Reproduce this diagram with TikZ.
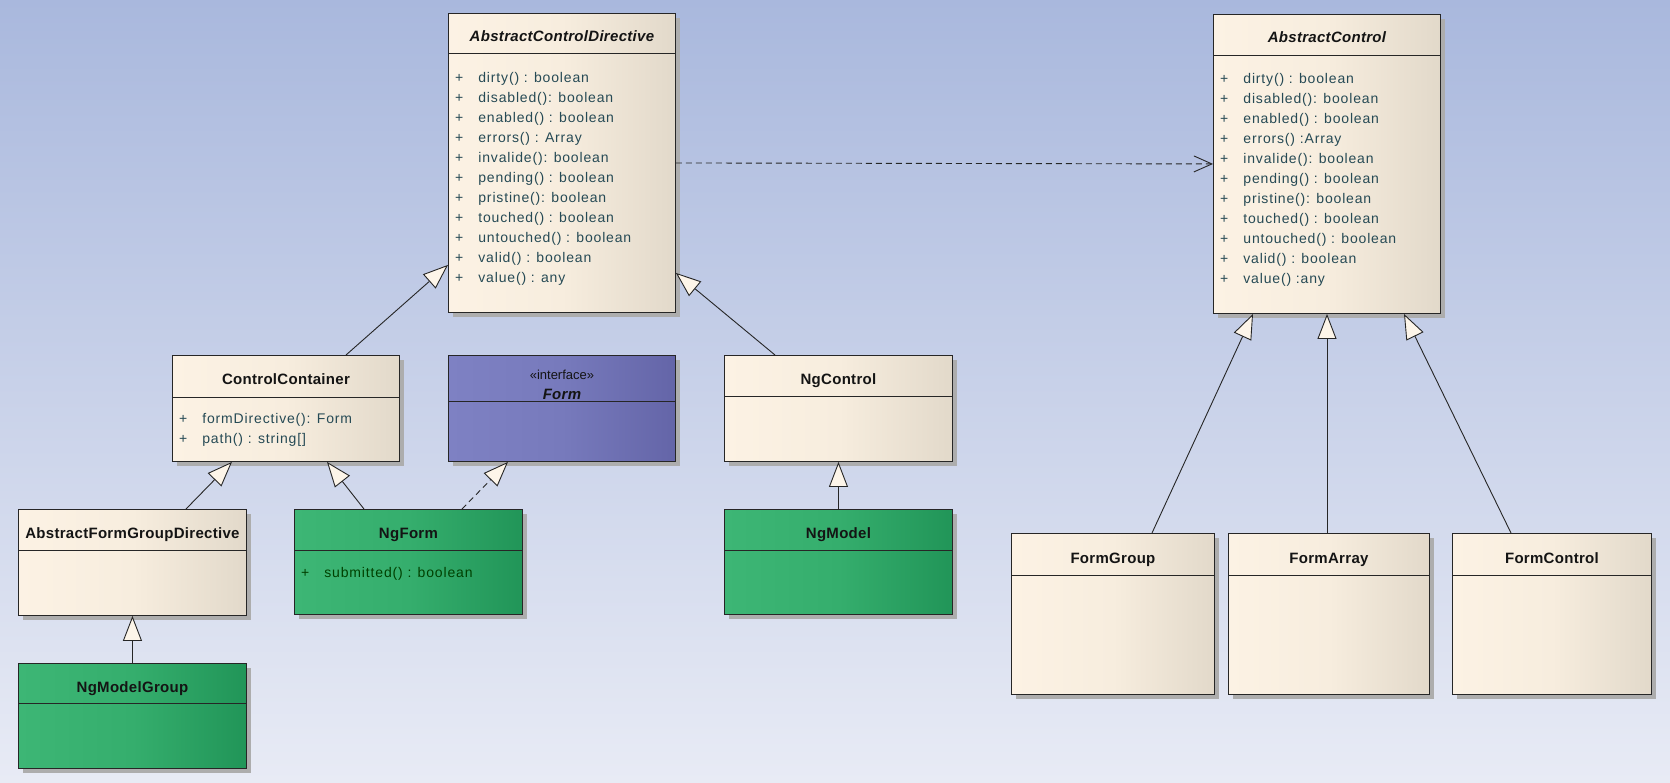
\documentclass[tikz,border=0pt]{standalone}
\usepackage{fontspec}
\setmainfont{Liberation Sans}
\usetikzlibrary{arrows.meta,shadows,calc}
\definecolor{bgtop}{HTML}{A9B8DD}
\definecolor{bgbot}{HTML}{E8EBF5}
\definecolor{beigeL}{HTML}{FCF2E4}
\definecolor{beigeM}{HTML}{F7EDDE}
\definecolor{beigeR}{HTML}{E2D9CA}
\definecolor{greenL}{HTML}{3DB675}
\definecolor{greenM}{HTML}{35AE6D}
\definecolor{greenR}{HTML}{219558}
\definecolor{purpL}{HTML}{7E81C3}
\definecolor{purpM}{HTML}{777ABC}
\definecolor{purpR}{HTML}{6465A8}
\definecolor{linecol}{HTML}{262626}
\definecolor{titlecol}{HTML}{141414}
\definecolor{attrcol}{HTML}{264A55}
\definecolor{tricol}{HTML}{FDF5E9}
\newcommand\attrfont{\fontsize{14}{20}\selectfont\addfontfeatures{LetterSpace=6}}
\newcommand\clstitlefont{\fontsize{15}{18}\selectfont\bfseries\addfontfeatures{LetterSpace=2}}
\tikzset{
  cls/.style={draw=linecol, line width=0.9pt, rectangle, anchor=north west, inner sep=0pt,
    drop shadow={shadow xshift=5pt, shadow yshift=-5pt, fill=black!32, opacity=1}},
  beige/.style={left color=beigeL, right color=beigeR, middle color=beigeM},
  green/.style={left color=greenL, right color=greenR, middle color=greenM},
  purp/.style={left color=purpL, right color=purpR, middle color=purpM},
  sepline/.style={draw=linecol, line width=0.9pt},
  ctitle/.style={anchor=base, inner sep=0pt, text=titlecol, font=\clstitlefont},
  attr/.style={anchor=base west, inner sep=0pt, text=attrcol, font=\attrfont},
  gen/.style={draw=linecol, line width=0.9pt, -{Triangle[length=25pt,width=19pt,fill=tricol]}},
  real/.style={gen, dash pattern=on 6pt off 4pt},
  dep/.style={draw=linecol, line width=0.9pt, dash pattern=on 6pt off 4pt, -{Straight Barb[length=18pt,width=16pt]}}
}
\newcommand\attrtab[1]{\begin{tabular}[t]{@{}l@{\hspace{15pt}}l@{}}#1\end{tabular}}
\begin{document}
\begin{tikzpicture}[x=1pt,y=-1pt]
\useasboundingbox (0,0) rectangle (1670,782);
\shade[top color=bgtop, bottom color=bgbot] (0,0) rectangle (1670,782);

% AbstractControlDirective
\node[cls, beige, minimum width=227pt, minimum height=299pt] (acd) at (448,13) {};
\draw[sepline] ([yshift=-40pt]acd.north west) -- ([yshift=-40pt]acd.north east);
\node[ctitle, font=\clstitlefont\itshape] (acdt) at ([yshift=-28.5pt]acd.north) {AbstractControlDirective};
\node[attr] (acda) at ([xshift=7pt,yshift=-69pt]acd.north west) {\attrtab{
+ & dirty() : boolean\\
+ & disabled(): boolean\\
+ & enabled() : boolean\\
+ & errors() : Array\\
+ & invalide(): boolean\\
+ & pending() : boolean\\
+ & pristine(): boolean\\
+ & touched() : boolean\\
+ & untouched() : boolean\\
+ & valid() : boolean\\
+ & value() : any}};

% AbstractControl
\node[cls, beige, minimum width=227pt, minimum height=299pt] (ac) at (1213,14) {};
\draw[sepline] ([yshift=-41pt]ac.north west) -- ([yshift=-41pt]ac.north east);
\node[ctitle, font=\clstitlefont\itshape] (act) at ([yshift=-28.5pt]ac.north) {AbstractControl};
\node[attr] (aca) at ([xshift=7pt,yshift=-69pt]ac.north west) {\attrtab{
+ & dirty() : boolean\\
+ & disabled(): boolean\\
+ & enabled() : boolean\\
+ & errors() :Array\\
+ & invalide(): boolean\\
+ & pending() : boolean\\
+ & pristine(): boolean\\
+ & touched() : boolean\\
+ & untouched() : boolean\\
+ & valid() : boolean\\
+ & value() :any}};

% ControlContainer
\node[cls, beige, minimum width=227pt, minimum height=106pt] (cc) at (172,355) {};
\draw[sepline] ([yshift=-42pt]cc.north west) -- ([yshift=-42pt]cc.north east);
\node[ctitle] (cct) at ([yshift=-29pt]cc.north) {ControlContainer};
\node[attr] (cca) at ([xshift=7pt,yshift=-68pt]cc.north west) {\attrtab{
+ & formDirective(): Form\\
+ & path() : string[]}};

% Form interface
\node[cls, purp, minimum width=227pt, minimum height=106pt] (form) at (448,355) {};
\draw[sepline] ([yshift=-46pt]form.north west) -- ([yshift=-46pt]form.north east);
\node[anchor=base, inner sep=0pt, text=titlecol, font=\fontsize{13}{15}\selectfont] (formst) at ([yshift=-24pt]form.north) {«interface»};
\node[ctitle, font=\clstitlefont\itshape] (formt) at ([yshift=-44pt]form.north) {Form};

% NgControl
\node[cls, beige, minimum width=228pt, minimum height=106pt] (ngc) at (724,355) {};
\draw[sepline] ([yshift=-41pt]ngc.north west) -- ([yshift=-41pt]ngc.north east);
\node[ctitle] (ngct) at ([yshift=-29pt]ngc.north) {NgControl};

% AbstractFormGroupDirective
\node[cls, beige, minimum width=228pt, minimum height=106pt] (afgd) at (18,509) {};
\draw[sepline] ([yshift=-41pt]afgd.north west) -- ([yshift=-41pt]afgd.north east);
\node[ctitle] (afgdt) at ([yshift=-29pt]afgd.north) {AbstractFormGroupDirective};

% NgForm
\node[cls, green, minimum width=228pt, minimum height=105pt] (ngf) at (294,509) {};
\draw[sepline] ([yshift=-41pt]ngf.north west) -- ([yshift=-41pt]ngf.north east);
\node[ctitle] (ngft) at ([yshift=-29pt]ngf.north) {NgForm};
\node[attr, text=black!75!green] (ngfa) at ([xshift=7pt,yshift=-68pt]ngf.north west) {\attrtab{
+ & submitted() : boolean}};

% NgModel
\node[cls, green, minimum width=228pt, minimum height=105pt] (ngm) at (724,509) {};
\draw[sepline] ([yshift=-41pt]ngm.north west) -- ([yshift=-41pt]ngm.north east);
\node[ctitle] (ngmt) at ([yshift=-29pt]ngm.north) {NgModel};

% NgModelGroup
\node[cls, green, minimum width=228pt, minimum height=105pt] (ngmg) at (18,663) {};
\draw[sepline] ([yshift=-40pt]ngmg.north west) -- ([yshift=-40pt]ngmg.north east);
\node[ctitle] (ngmgt) at ([yshift=-29pt]ngmg.north) {NgModelGroup};

% FormGroup, FormArray, FormControl
\node[cls, beige, minimum width=203pt, minimum height=161pt] (fg) at (1011,533) {};
\draw[sepline] ([yshift=-42pt]fg.north west) -- ([yshift=-42pt]fg.north east);
\node[ctitle] (fgt) at ([yshift=-30pt]fg.north) {FormGroup};

\node[cls, beige, minimum width=201pt, minimum height=161pt] (fa) at (1228,533) {};
\draw[sepline] ([yshift=-42pt]fa.north west) -- ([yshift=-42pt]fa.north east);
\node[ctitle] (fat) at ([yshift=-30pt]fa.north) {FormArray};

\node[cls, beige, minimum width=199pt, minimum height=161pt] (fc) at (1452,533) {};
\draw[sepline] ([yshift=-42pt]fc.north west) -- ([yshift=-42pt]fc.north east);
\node[ctitle] (fct) at ([yshift=-30pt]fc.north) {FormControl};

% connectors
\draw[dep] (acd.east) -- (ac.west);
\draw[gen] ($(cc.north west)+(174,0)$) -- ($(acd.south west)+(0,-48)$);
\draw[gen] ($(ngc.north west)+(51,0)$) -- ($(acd.south east)+(0,-40)$);
\draw[gen] ($(afgd.north west)+(168,0)$) -- ($(cc.south west)+(60,0)$);
\draw[gen] ($(ngf.north west)+(70,0)$) -- ($(cc.south west)+(155,0)$);
\draw[real] ($(ngf.north west)+(168,0)$) -- ($(form.south west)+(60,0)$);
\draw[gen] (ngm.north) -- (ngc.south);
\draw[gen] (ngmg.north) -- (afgd.south);
\draw[gen] ($(fg.north west)+(141,0)$) -- ($(ac.south west)+(40,0)$);
\draw[gen] ($(fa.north west)+(99,0)$) -- ($(ac.south west)+(114,0)$);
\draw[gen] ($(fc.north west)+(59,0)$) -- ($(ac.south west)+(191,0)$);
\end{tikzpicture}
\end{document}
